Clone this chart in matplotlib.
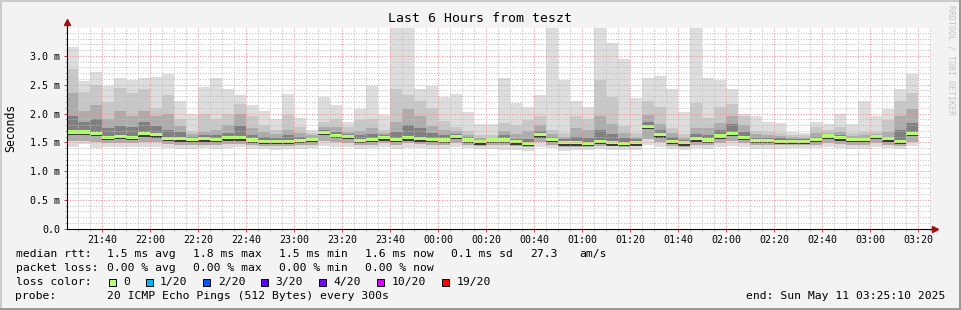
import matplotlib
matplotlib.use("Agg")
import matplotlib.pyplot as plt
import matplotlib.dates as mdates
from matplotlib.patches import Rectangle
from matplotlib.ticker import MultipleLocator, FuncFormatter
import pandas as pd

# 5 minute bins, 20 pings each (values in ms)
bin_start = pd.date_range("2025-05-10 21:25", periods=71, freq="5min")
t_start = pd.Timestamp("2025-05-10 21:25:10")
t_end = pd.Timestamp("2025-05-11 03:25:10")

ping_max = [3.16, 2.57, 2.72, 2.48, 2.61, 2.58, 2.62, 2.63, 2.68, 2.21,
            2.00, 2.46, 2.61, 2.43, 2.32, 2.15, 2.05, 1.90, 2.34, 1.93,
            1.71, 2.28, 2.15, 1.86, 2.08, 2.48, 1.97, 4.00, 3.80, 2.43,
            2.48, 2.28, 2.34, 2.03, 1.81, 1.81, 2.62, 2.19, 2.11, 2.32,
            4.20, 2.58, 2.21, 2.11, 4.30, 3.23, 2.94, 2.27, 2.61, 2.65,
            2.43, 2.03, 4.10, 2.61, 2.58, 2.43, 1.99, 1.96, 1.85, 1.83,
            1.68, 1.67, 1.85, 1.81, 1.99, 1.81, 2.22, 1.96, 2.08, 2.42, 2.68]
ping_up2 = [2.78, 2.37, 2.50, 2.20, 2.45, 2.35, 2.42, 2.10, 2.32, 1.90,
            1.70, 2.00, 1.90, 2.00, 2.17, 1.95, 1.80, 1.72, 1.97, 1.76,
            1.66, 1.86, 1.90, 1.76, 1.88, 1.90, 1.72, 2.42, 2.33, 2.22,
            2.10, 1.87, 1.77, 1.70, 1.62, 1.62, 1.83, 1.80, 1.88, 1.96,
            1.72, 1.66, 1.96, 1.90, 2.58, 2.28, 1.78, 1.66, 2.22, 2.12,
            1.74, 1.64, 2.19, 1.93, 2.12, 2.17, 1.96, 1.70, 1.68, 1.66,
            1.62, 1.62, 1.76, 1.72, 1.76, 1.66, 1.68, 1.68, 1.88, 2.22, 2.35]
ping_up = [2.35, 2.05, 2.15, 1.90, 2.05, 1.95, 2.05, 1.95, 2.00, 1.78,
           1.64, 1.68, 1.72, 1.80, 2.00, 1.75, 1.68, 1.64, 1.72, 1.66,
           1.62, 1.76, 1.76, 1.68, 1.70, 1.74, 1.66, 1.86, 2.08, 1.95,
           1.78, 1.72, 1.70, 1.63, 1.57, 1.58, 1.70, 1.65, 1.70, 1.80,
           1.64, 1.60, 1.74, 1.72, 1.95, 1.82, 1.66, 1.60, 1.97, 1.82,
           1.66, 1.58, 1.75, 1.74, 1.84, 1.95, 1.80, 1.64, 1.62, 1.61,
           1.59, 1.58, 1.66, 1.67, 1.68, 1.61, 1.62, 1.64, 1.68, 1.95, 2.08]
ping_mid = [1.95, 1.85, 1.90, 1.75, 1.78, 1.76, 1.85, 1.78, 1.72, 1.68,
            1.60, 1.62, 1.63, 1.66, 1.78, 1.62, 1.60, 1.58, 1.62, 1.60,
            1.58, 1.72, 1.68, 1.64, 1.62, 1.64, 1.62, 1.68, 1.80, 1.75,
            1.66, 1.63, 1.65, 1.59, 1.54, 1.56, 1.62, 1.56, 1.56, 1.70,
            1.60, 1.55, 1.60, 1.58, 1.72, 1.65, 1.58, 1.55, 1.86, 1.72,
            1.59, 1.54, 1.64, 1.62, 1.72, 1.82, 1.68, 1.58, 1.57, 1.57,
            1.56, 1.56, 1.60, 1.65, 1.62, 1.58, 1.58, 1.62, 1.60, 1.72, 1.84]
median = [1.68, 1.68, 1.66, 1.59, 1.60, 1.59, 1.65, 1.63, 1.57, 1.56,
          1.55, 1.56, 1.55, 1.58, 1.58, 1.54, 1.52, 1.52, 1.52, 1.53,
          1.55, 1.67, 1.62, 1.60, 1.53, 1.55, 1.58, 1.55, 1.58, 1.56,
          1.55, 1.54, 1.60, 1.54, 1.51, 1.54, 1.54, 1.51, 1.48, 1.63,
          1.55, 1.49, 1.49, 1.48, 1.52, 1.49, 1.48, 1.49, 1.78, 1.63,
          1.52, 1.49, 1.56, 1.54, 1.61, 1.66, 1.59, 1.53, 1.53, 1.52,
          1.52, 1.52, 1.55, 1.61, 1.58, 1.55, 1.55, 1.60, 1.56, 1.52, 1.66]
ping_core = [1.63, 1.63, 1.61, 1.54, 1.55, 1.54, 1.60, 1.58, 1.52, 1.51,
             1.50, 1.51, 1.50, 1.53, 1.53, 1.49, 1.47, 1.47, 1.47, 1.48,
             1.50, 1.62, 1.57, 1.55, 1.48, 1.50, 1.53, 1.50, 1.53, 1.51,
             1.50, 1.49, 1.55, 1.49, 1.46, 1.49, 1.49, 1.46, 1.43, 1.58,
             1.50, 1.44, 1.44, 1.43, 1.47, 1.44, 1.43, 1.44, 1.73, 1.58,
             1.47, 1.44, 1.51, 1.49, 1.56, 1.61, 1.54, 1.48, 1.48, 1.47,
             1.47, 1.47, 1.50, 1.56, 1.53, 1.50, 1.50, 1.55, 1.51, 1.47, 1.61]
ping_dn = [1.52, 1.53, 1.50, 1.49, 1.49, 1.48, 1.50, 1.50, 1.47, 1.46,
           1.45, 1.46, 1.45, 1.47, 1.47, 1.45, 1.44, 1.43, 1.44, 1.45,
           1.46, 1.52, 1.50, 1.49, 1.45, 1.46, 1.48, 1.46, 1.48, 1.47,
           1.46, 1.45, 1.49, 1.46, 1.44, 1.46, 1.45, 1.43, 1.41, 1.50,
           1.46, 1.42, 1.42, 1.42, 1.44, 1.43, 1.42, 1.43, 1.55, 1.50,
           1.44, 1.42, 1.46, 1.45, 1.49, 1.52, 1.48, 1.45, 1.45, 1.45,
           1.45, 1.45, 1.46, 1.49, 1.47, 1.46, 1.46, 1.48, 1.46, 1.44, 1.50]
ping_min = [1.41, 1.47, 1.40, 1.41, 1.42, 1.41, 1.42, 1.42, 1.40, 1.39,
            1.38, 1.40, 1.38, 1.40, 1.41, 1.39, 1.38, 1.37, 1.38, 1.39,
            1.40, 1.43, 1.42, 1.42, 1.39, 1.40, 1.41, 1.39, 1.40, 1.40,
            1.39, 1.39, 1.41, 1.40, 1.38, 1.38, 1.36, 1.36, 1.35, 1.42,
            1.40, 1.35, 1.36, 1.36, 1.38, 1.37, 1.36, 1.37, 1.45, 1.42,
            1.38, 1.37, 1.40, 1.39, 1.41, 1.44, 1.42, 1.39, 1.39, 1.39,
            1.40, 1.40, 1.40, 1.42, 1.40, 1.39, 1.39, 1.41, 1.40, 1.38, 1.43]

loss_labels = ["0", "1/20", "2/20", "3/20", "4/20", "10/20", "19/20"]
loss_colors = ["#b4ff6e", "#00b8ff", "#0059ff", "#5e00ff", "#7e00ff", "#dd00ff", "#ff0000"]

rtt_stats = ["1.5 ms avg", "1.8 ms max", "1.5 ms min", "1.6 ms now", "0.1 ms sd", "27.3", "am/s"]
loss_stats = ["0.00 % avg", "0.00 % max", "0.00 % min", "0.00 % now"]

W, H = 961, 310
MONO = "DejaVu Sans Mono"
GRID = "#bdbdbd"
MGRID = "#e89090"


def fx(px):
    return px / W


def fy(py):
    return 1 - py / H


fig = plt.figure(figsize=(W / 100, H / 100), dpi=100)
fig.patch.set_facecolor("#f3f3f3")

# border shading like rrdtool
for x0, y0, w, h, c in [(0, 0, W, 2, "#cbcbcb"), (0, 0, 2, H, "#cbcbcb"),
                        (0, H - 2, W, 2, "#999999"), (W - 2, 0, 2, H, "#999999")]:
    fig.patches.append(Rectangle((fx(x0), fy(y0 + h)), w / W, h / H,
                                 transform=fig.transFigure, color=c, lw=0))

ax = fig.add_axes([66.7 / W, (H - 228.7) / H, 864 / W, 201.0 / H])
ax.set_facecolor("white")

x = mdates.date2num(bin_start)
bw = 5 / 1440.0


def band(lo, hi, color):
    heights = [h - l for l, h in zip(lo, hi)]
    ax.bar(x, heights, width=bw, bottom=lo, align="edge", color=color, linewidth=0, zorder=1)


band(ping_min, ping_max, "#dddddd")
band(ping_dn, ping_up2, "#c8c8c8")
band(ping_dn, ping_up, "#acacac")
band(ping_core, ping_mid, "#808080")
band(ping_core, median, "#3a3a3a")
# median drawn as a thin stacked band (like smokeping)
thick = 0.055
ax.bar(x, [thick] * len(median), width=bw, bottom=[m - thick / 2 for m in median],
       align="edge", color=loss_colors[0], linewidth=0, zorder=1.5)

ax.set_xlim(mdates.date2num(t_start), mdates.date2num(t_end))
ax.set_ylim(0, 3.49)

ax.xaxis.set_major_locator(mdates.MinuteLocator(byminute=[0, 20, 40]))
ax.xaxis.set_minor_locator(mdates.MinuteLocator(byminute=range(0, 60, 5)))
ax.xaxis.set_major_formatter(mdates.DateFormatter("%H:%M"))
ax.yaxis.set_major_locator(MultipleLocator(0.5))
ax.yaxis.set_minor_locator(MultipleLocator(0.1))
ax.yaxis.set_major_formatter(FuncFormatter(lambda v, p: "0.0" if abs(v) < 1e-9 else f"{v:.1f} m"))

ax.set_axisbelow(False)
ax.grid(which="minor", color=GRID, linestyle=(0, (1, 1.6)), linewidth=0.72)
ax.grid(which="major", color=MGRID, linestyle=(0, (1, 1.6)), linewidth=0.72)

for s in ["top", "right"]:
    ax.spines[s].set_visible(False)
for s in ["left", "bottom"]:
    ax.spines[s].set_color("black")
    ax.spines[s].set_linewidth(0.8)
    ax.spines[s].set_zorder(3)

ax.tick_params(which="major", length=2.2, width=0.7, direction="out", pad=2.5,
               labelsize=7.2, labelcolor="black", color="#b04040")
ax.tick_params(which="minor", length=1.5, width=0.6, direction="out", color="#a0a0a0")
for lab in ax.get_xticklabels() + ax.get_yticklabels():
    lab.set_family(MONO)

# axis arrows
ax.plot([0, 0], [1, 1.025], transform=ax.transAxes, color="black", lw=0.8, clip_on=False)
ax.plot([0], [1.03], marker="^", markersize=4, color="#a01010", transform=ax.transAxes, clip_on=False)
ax.plot([1, 1.004], [0, 0], transform=ax.transAxes, color="black", lw=0.8, clip_on=False)
ax.plot([1.005], [0], marker=">", markersize=4, color="#a01010", transform=ax.transAxes, clip_on=False)

fig.text(fx(480), fy(19), "Last 6 Hours from teszt", ha="center", va="center",
         family=MONO, fontsize=9.5)
fig.text(fx(10.5), fy(127.5), "Seconds", ha="center", va="center", rotation=90,
         family=MONO, fontsize=8.3)
fig.text(fx(951.5), fy(60), "RRDTOOL / TOBI OETIKER", ha="center", va="center",
         rotation=270, family=MONO, fontsize=6, color="#c4c4c4")

fs = 8.2
fig.text(fx(15.5), fy(254), "median rtt:", va="center", family=MONO, fontsize=fs)
for px, s in zip([106.8, 192.8, 278.8, 365.2, 451.2, 530.2, 578.8], rtt_stats):
    fig.text(fx(px), fy(254), s, va="center", family=MONO, fontsize=fs)

fig.text(fx(15.5), fy(268), "packet loss:", va="center", family=MONO, fontsize=fs)
for px, s in zip([106.8, 192.8, 278.8, 365.2], loss_stats):
    fig.text(fx(px), fy(268), s, va="center", family=MONO, fontsize=fs)

fig.text(fx(15.5), fy(282), "loss color:", va="center", family=MONO, fontsize=fs)
sq_x = [108.7, 145.7, 203.3, 261, 319, 377, 442.3]
lab_x = [122.8, 159.8, 217.8, 275.5, 333.5, 391.2, 456.8]
for sx, lx, lab, c in zip(sq_x, lab_x, loss_labels, loss_colors):
    fig.patches.append(Rectangle((fx(sx), fy(285.5)), 7 / W, 7 / H, transform=fig.transFigure,
                                 facecolor=c, edgecolor="black", lw=0.7))
    fig.text(fx(lx), fy(282), lab, va="center", family=MONO, fontsize=fs)

fig.text(fx(15.5), fy(296), "probe:", va="center", family=MONO, fontsize=fs)
fig.text(fx(106.8), fy(296), "20 ICMP Echo Pings (512 Bytes) every 300s", va="center",
         family=MONO, fontsize=fs)
fig.text(fx(945), fy(296), "end: Sun May 11 03:25:10 2025", va="center", ha="right",
         family=MONO, fontsize=fs)

fig.savefig("out.png", dpi=100, facecolor=fig.get_facecolor())
